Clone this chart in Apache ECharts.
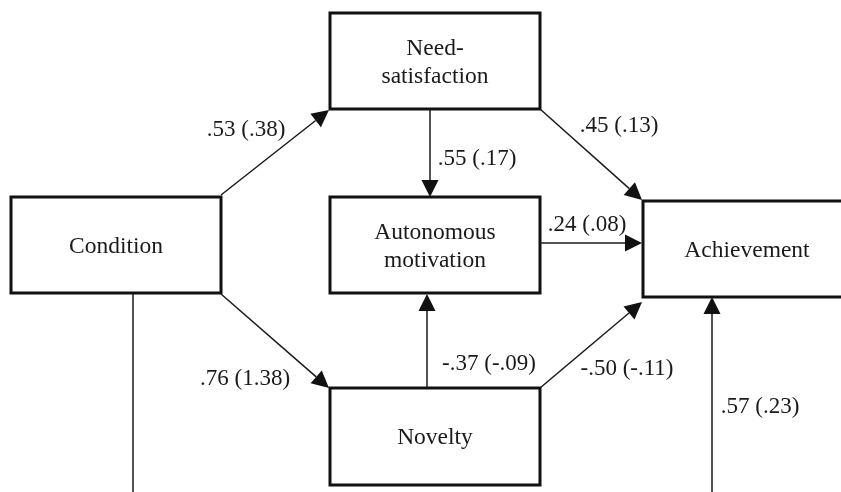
<!DOCTYPE html>
<html>
<head>
<meta charset="utf-8">
<script src="https://cdn.jsdelivr.net/npm/echarts@6/dist/echarts.min.js"></script>
<style>
html, body { margin: 0; padding: 0; background: #fff; }
#chart { width: 841px; height: 492px; }
</style>
</head>
<body>
<div id="chart"></div>
<script>
// variables of the path model
var nodeNames = ['Condition', 'Need-\nsatisfaction', 'Autonomous\nmotivation', 'Novelty', 'Achievement'];
// standardized and (unstandardized) path coefficients, one per arrow
var pathStd   = [.53, .45, .55, .24, .76, -.37, -.50, .57];
var pathUnstd = [.38, .13, .17, .08, 1.38, -.09, -.11, .23];

// layout in canvas pixels (x0, y0, x1, y1)
var nodeBoxes = [
    [11, 197, 221, 293],
    [330, 13, 540, 109],
    [330, 197, 540, 293],
    [330, 388, 540, 485],
    [643, 201, 851, 297]
];
var pathLines = [
    [221, 195, 329, 110],   // Condition -> Need-satisfaction
    [540, 109, 642, 200],   // Need-satisfaction -> Achievement
    [430, 109, 430, 197],   // Need-satisfaction -> Autonomous motivation
    [540, 243, 642, 243],   // Autonomous motivation -> Achievement
    [221, 294, 329, 388],   // Condition -> Novelty
    [427, 388, 427, 294],   // Novelty -> Autonomous motivation
    [540, 388, 642, 302],   // Novelty -> Achievement
    [712, 492, 712, 297]    // (from below) -> Achievement
];
var labelSpots = [[246, 129], [619, 125], [477, 158], [587, 224], [245, 378], [489, 363], [627, 368], [760, 406]];
var plainLines = [[133, 293, 133, 492]];

var FONT = '"Liberation Serif", "Times New Roman", serif';

function coef(v) {
    return v.toFixed(2).replace(/^(-?)0\./, '$1.');
}
var pathLabels = pathStd.map(function (v, i) {
    return coef(v) + ' (' + coef(pathUnstd[i]) + ')';
});

function renderBox(params, api) {
    var p0 = api.coord([api.value(0), api.value(1)]);
    var p1 = api.coord([api.value(2), api.value(3)]);
    return {
        type: 'group',
        children: [{
            type: 'rect',
            shape: { x: p0[0], y: p0[1], width: p1[0] - p0[0], height: p1[1] - p0[1] },
            style: { fill: '#fff', stroke: '#111', lineWidth: 3 }
        }, {
            type: 'text',
            style: {
                x: (p0[0] + p1[0]) / 2, y: (p0[1] + p1[1]) / 2 + 1.5,
                text: nodeNames[params.dataIndex],
                align: 'center', verticalAlign: 'middle',
                font: '23.5px ' + FONT, lineHeight: 28, fill: '#1a1a1a'
            }
        }]
    };
}

function renderArrow(params, api) {
    var p0 = api.coord([api.value(0), api.value(1)]);
    var p1 = api.coord([api.value(2), api.value(3)]);
    var dx = p1[0] - p0[0], dy = p1[1] - p0[1];
    var len = Math.sqrt(dx * dx + dy * dy);
    var ux = dx / len, uy = dy / len;
    var headLen = 17, half = 8.5;
    var bx = p1[0] - ux * headLen, by = p1[1] - uy * headLen;
    return {
        type: 'group',
        children: [{
            type: 'line',
            shape: { x1: p0[0], y1: p0[1], x2: bx, y2: by },
            style: { stroke: '#1a1a1a', lineWidth: 1.5 }
        }, {
            type: 'polygon',
            shape: { points: [[p1[0], p1[1]], [bx - uy * half, by + ux * half], [bx + uy * half, by - ux * half]] },
            style: { fill: '#111' }
        }]
    };
}

function renderPlain(params, api) {
    var p0 = api.coord([api.value(0), api.value(1)]);
    var p1 = api.coord([api.value(2), api.value(3)]);
    return {
        type: 'line',
        shape: { x1: p0[0], y1: p0[1], x2: p1[0], y2: p1[1] },
        style: { stroke: '#1a1a1a', lineWidth: 1.5 }
    };
}

function renderLabel(params, api) {
    var p = api.coord([api.value(0), api.value(1)]);
    return {
        type: 'text',
        style: {
            x: p[0], y: p[1] + 1,
            text: pathLabels[params.dataIndex],
            align: 'center', verticalAlign: 'middle',
            font: '23px ' + FONT, fill: '#1a1a1a'
        }
    };
}

var chart = echarts.init(document.getElementById('chart'));
var option = {
    animation: false,
    backgroundColor: '#fff',
    grid: { left: 0, right: 0, top: 0, bottom: 0 },
    xAxis: { type: 'value', min: 0, max: 841, show: false },
    yAxis: { type: 'value', min: 0, max: 492, inverse: true, show: false },
    series: [
        { type: 'custom', name: 'plain', renderItem: renderPlain, encode: { x: [0, 2], y: [1, 3] }, data: plainLines, clip: false },
        { type: 'custom', name: 'boxes', renderItem: renderBox, encode: { x: [0, 2], y: [1, 3] }, data: nodeBoxes, clip: false },
        { type: 'custom', name: 'paths', renderItem: renderArrow, encode: { x: [0, 2], y: [1, 3] }, data: pathLines, clip: false },
        { type: 'custom', name: 'labels', renderItem: renderLabel, encode: { x: 0, y: 1 }, data: labelSpots, clip: false }
    ]
};
chart.setOption(option);
</script>
</body>
</html>
